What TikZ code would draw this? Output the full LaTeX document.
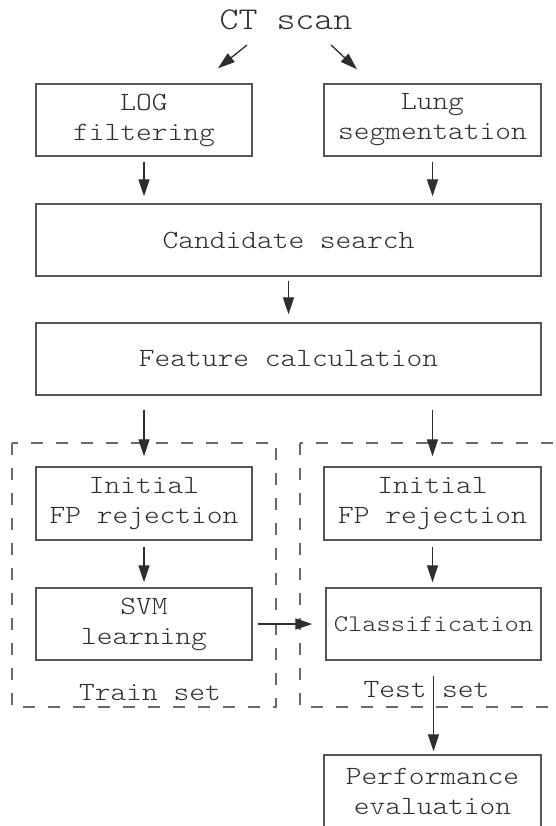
\documentclass[tikz,border=0pt]{standalone}
\usepackage{fontspec}
\setmonofont[FakeStretch=1.14]{lmmonolt10-regular.otf}
\usepackage{tikz}
\usetikzlibrary{arrows.meta}
\definecolor{inkgray}{HTML}{2E2E2E}
\definecolor{linegray}{HTML}{555555}
\definecolor{dashgray}{HTML}{6A6A6A}

\begin{document}
\begin{tikzpicture}[x=1pt,y=-1pt]
\tikzstyle{every node}+=[inner sep=0pt,align=center,text=inkgray,font=\ttfamily\fontsize{26.3}{30}\selectfont]
\tikzstyle{blk}=[draw=linegray,line width=1.4pt,minimum width=216pt,minimum height=72pt]
\tikzstyle{wide}=[blk,minimum width=505pt]
\tikzstyle{arr}=[draw=inkgray,line width=1.3pt,-{Triangle[length=17pt,width=11pt]}]
\tikzstyle{setbox}=[draw=dashgray,line width=1.8pt,dash pattern=on 12pt off 13pt]
\useasboundingbox (0,0) rectangle (556,826);
\clip (0,0) rectangle (556,826);
\draw [setbox] (12,443) rectangle (276,707);
\draw [setbox] (300,443) rectangle (600,707);
\node (ct) at (286,20) {\fontsize{31.7}{36}\selectfont CT scan};
\node [blk] (log) at (144,120) {LOG\\filtering};
\node [blk,minimum width=217pt] (lung) at (432.5,120) {Lung\\segmentation};
\node [wide] (cand) at (288.5,240) {Candidate search};
\node [wide] (feat) at (288.5,359) {Feature calculation};
\node [blk,minimum height=73pt] (rej1) at (144,503.5) {Initial\\FP rejection};
\node [blk,minimum width=217pt,minimum height=73pt] (rej2) at (432.5,503.5) {Initial\\FP rejection};
\node [blk] (svm) at (144,624) {SVM\\learning};
\node [blk,minimum width=215pt] (cls) at (433.5,624) {\fontsize{23.8}{28}\selectfont Classification};
\node [blk,minimum width=217pt] (perf) at (432.5,791) {Performance\\evaluation};
\node [anchor=base] (train) at (150,700) {Train set};
\node [anchor=base] (test) at (426.5,697) {Test set};
\draw [arr] ([shift={(-39,25)}]ct.center) -- ([shift={(74,-15)}]log.north);
\draw [arr] ([shift={(45,25)}]ct.center) -- ([shift={(-75.5,-14)}]lung.north);
\draw [arr,shorten <=5pt,shorten >=7pt] (log.south) -- (log.south |- cand.north);
\draw [arr,shorten <=5pt,shorten >=7pt] (lung.south) -- (lung.south |- cand.north);
\draw [arr,shorten <=4pt,shorten >=8pt] (cand.south) -- (feat.north);
\draw [arr,shorten <=14pt,shorten >=10pt] (rej1.north |- feat.south) -- (rej1.north);
\draw [arr,shorten <=14pt,shorten >=10pt] (rej2.north |- feat.south) -- (rej2.north);
\draw [arr,shorten <=6pt,shorten >=5pt] (rej1.south) -- (svm.north);
\draw [arr,shorten <=6pt,shorten >=5pt] (rej2.south) -- (rej2.south |- cls.north);
\draw [arr,shorten <=5pt,shorten >=13pt] (svm.east) -- (cls.west);
\draw [arr,shorten <=15pt,shorten >=3pt] (cls.south) -- (cls.south |- perf.north);
\end{tikzpicture}
\end{document}
